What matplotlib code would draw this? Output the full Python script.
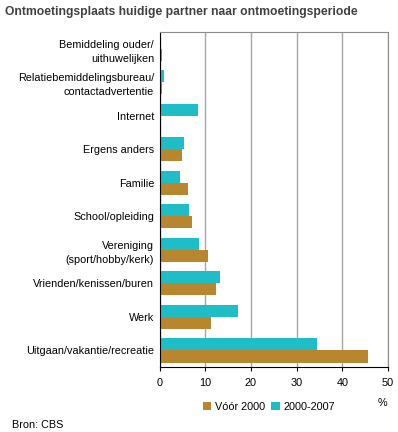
import matplotlib.pyplot as plt
import numpy as np

plt.rcParams['font.family'] = ['Liberation Sans', 'DejaVu Sans']

categories = ['Bemiddeling ouder/\nuithuwelijken',
              'Relatiebemiddelingsbureau/\ncontactadvertentie',
              'Internet', 'Ergens anders', 'Familie', 'School/opleiding',
              'Vereniging\n(sport/hobby/kerk)', 'Vrienden/kenissen/buren',
              'Werk', 'Uitgaan/vakantie/recreatie']
voor_2000 = [0.5, 0.5, 0.0, 4.9, 6.2, 7.0, 10.6, 12.3, 11.2, 45.6]
periode_2000_2007 = [0.0, 0.9, 8.4, 5.3, 4.4, 6.4, 8.6, 13.2, 17.1, 34.4]

brown = '#B8862F'
teal = '#1FBEC6'

fig = plt.figure(figsize=(3.98, 4.32), dpi=100)
ax = fig.add_axes([0.401, 0.150, 0.574, 0.776])

y = np.arange(len(categories))
h = 0.36
ax.barh(y + h / 2, voor_2000, height=h, color=brown, label='Vóór 2000')
ax.barh(y - h / 2, periode_2000_2007, height=h, color=teal, label='2000-2007')

ax.set_ylim(len(categories) - 0.5, -0.5)
ax.set_xlim(0, 50)
ax.set_xticks([0, 10, 20, 30, 40, 50])
ax.set_yticks(y)
ax.set_yticklabels(categories, fontsize=7.8, linespacing=1.5)
ax.tick_params(axis='y', length=0, pad=4)
ax.tick_params(axis='x', labelsize=7.8, length=3, direction='out', pad=5)
ax.xaxis.grid(True, color='#A6A6A6', linewidth=1)
ax.set_axisbelow(True)
for s in ['top', 'right']:
    ax.spines[s].set_color('#8C8C8C')
for s in ['left', 'bottom']:
    ax.spines[s].set_color('black')

fig.text(0.013, 0.985, 'Ontmoetingsplaats huidige partner naar ontmoetingsperiode',
         fontsize=8.7, fontweight='bold', color='#404040', va='top')
fig.text(0.962, 0.068, '%', fontsize=7.8, ha='center', va='center')
fig.text(0.03, 0.016, 'Bron: CBS', fontsize=7.8, va='center')
fig.legend(loc='center', bbox_to_anchor=(0.675, 0.059), ncol=2, frameon=False,
           fontsize=7.8, handlelength=0.8, handleheight=0.8, handletextpad=0.3,
           columnspacing=0.6)

fig.savefig('out.png', dpi=100)
